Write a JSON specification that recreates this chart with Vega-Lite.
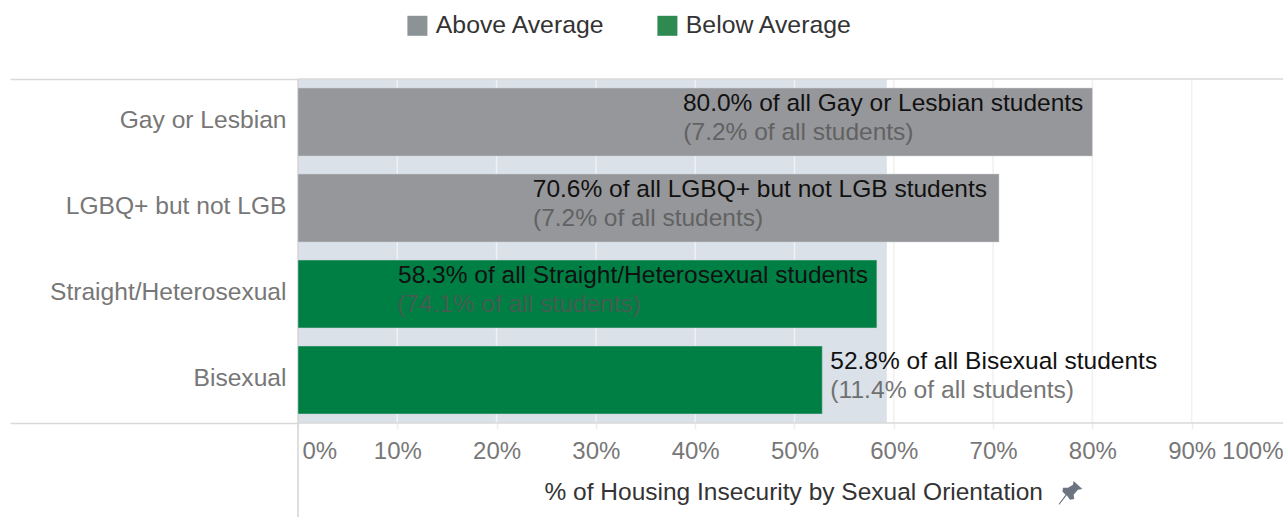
{
"$schema":"https://vega.github.io/schema/vega-lite/v6.json",
"width":985,"height":344,
"autosize":{"type":"none"},
"padding":{"left":298,"top":79,"right":0,"bottom":94},
"background":"white",
"config":{"font":"Liberation Sans","view":{"stroke":null},"text":{"font":"Liberation Sans"}},
"datasets":{
"rows":[
{"group":"Gay or Lesbian","pct":80.0,"share":7.2,"status":"Above Average","line1":"80.0% of all Gay or Lesbian students","line2":"(7.2% of all students)"},
{"group":"LGBQ+ but not LGB","pct":70.6,"share":7.2,"status":"Above Average","line1":"70.6% of all LGBQ+ but not LGB students","line2":"(7.2% of all students)"},
{"group":"Straight/Heterosexual","pct":58.3,"share":74.1,"status":"Below Average","line1":"58.3% of all Straight/Heterosexual students","line2":"(74.1% of all students)"},
{"group":"Bisexual","pct":52.8,"share":11.4,"status":"Below Average","line1":"52.8% of all Bisexual students","line2":"(11.4% of all students)"}
],
"gridIn":[{"tick":10},{"tick":20},{"tick":30},{"tick":40},{"tick":50}],
"gridOut":[{"tick":60},{"tick":70},{"tick":80},{"tick":90}],
"edges":[{"edge":0},{"edge":1}]
},
"layer":[
{"layer":[
{"data":{"values":[{"start":0,"average":59.3}]},"mark":{"type":"rect","color":"#dbe1e9"},
 "encoding":{"x":{"field":"start","type":"quantitative","axis":null,"scale":{"domain":[0,99.2],"clamp":true,"nice":false}},"x2":{"field":"average"}}},
{"data":{"name":"rows"},"mark":{"type":"rect","opacity":0},
 "encoding":{"x":{"field":"pct","type":"quantitative","axis":null},
  "color":{"field":"status","type":"nominal","scale":{"domain":["Above Average","Below Average"],"range":["#8b9396","#2f8a52"]},
   "legend":{"orient":"none","legendX":107,"legendY":-66,"direction":"horizontal","columns":2,"title":null,"symbolType":"square","symbolSize":400,"symbolStrokeWidth":0,"symbolOpacity":1,"labelOpacity":1,"labelFontSize":24.8,"labelLimit":220,"labelColor":"#333333","labelOffset":6,"columnPadding":50}}}},
{"data":{"name":"gridIn"},"mark":{"type":"rule","color":"#eef1f5","strokeWidth":1.5},
 "encoding":{"x":{"field":"tick","type":"quantitative","axis":null}}},
{"data":{"name":"gridOut"},"mark":{"type":"rule","color":"#f0f0f0","strokeWidth":1.5},
 "encoding":{"x":{"field":"tick","type":"quantitative","axis":null}}},
{"data":{"name":"edges"},"mark":{"type":"rule","color":"#d9d9d9","strokeWidth":1.5},
 "encoding":{"y":{"field":"edge","type":"quantitative","scale":{"domain":[0,1]},
   "axis":{"values":[0,1],"orient":"left","title":null,"labels":false,"domain":false,"grid":false,"ticks":true,"tickSize":288,"tickColor":"#d9d9d9","tickWidth":1.5}}}},
{"data":{"values":[{"x0":0,"from":-0.275,"to":1}]},"mark":{"type":"rule","color":"#d4d4d4","strokeWidth":1.5,"clip":false},
 "encoding":{"x":{"field":"x0","type":"quantitative","axis":null},"y":{"field":"from","type":"quantitative"},"y2":{"field":"to"}}},
{"data":{"values":[{"px":77.8,"py":-0.203}]},"mark":{"type":"point","filled":true,"clip":false,"color":"#6b7480","size":620,"opacity":1,
  "shape":"M0.25,-0.95 L0.95,-0.3 L0.6,-0.25 L0.25,0.15 L0.3,0.5 L-0.05,0.55 L-0.3,0.2 L-0.9,0.95 L-0.95,0.9 L-0.4,0.15 L-0.65,-0.1 L-0.6,-0.4 L-0.2,-0.4 L0.2,-0.65 Z"},
 "encoding":{"x":{"field":"px","type":"quantitative","axis":null},"y":{"field":"py","type":"quantitative"}}}
]},
{"data":{"name":"rows"},
 "encoding":{"y":{"field":"group","type":"nominal","sort":null,"scale":{"domain":["Gay or Lesbian","LGBQ+ but not LGB","Straight/Heterosexual","Bisexual"],"paddingInner":0.21,"paddingOuter":0.105},"axis":null}},
 "resolve":{"axis":{"x":"independent","y":"independent"}},
 "layer":[
{"mark":{"type":"bar","stroke":"#cfd3d6","strokeWidth":0.5},
 "encoding":{
  "x":{"field":"pct","type":"quantitative","scale":{"domain":[0,99.2],"clamp":true,"nice":false},
   "axis":{"orient":"bottom","values":[0,10,20,30,40,50,60,70,80,90,100],"title":"% of Housing Insecurity by Sexual Orientation","grid":false,"domain":false,
    "labelExpr":"datum.value + '%'","labelFlush":true,"labelOverlap":false,"labelFontSize":24,"labelColor":"#777777","labelPadding":10,
    "labelOffset":{"condition":{"test":"datum.value === 0","value":4},"value":0},
    "tickColor":"#eeeeee",
    "tickOpacity":{"condition":{"test":"datum.value === 100","value":0},"value":1},
    "tickSize":6,"tickWidth":1.5,
    "titleFontSize":24.5,"titleFontWeight":"normal","titleColor":"#333333","titlePadding":17,"titleAnchor":"start","titleX":246}},
  "y":{"field":"group","type":"nominal","sort":null,
   "axis":{"orient":"left","title":null,"ticks":false,"domain":false,"labelFontSize":24.6,"labelColor":"#777777","labelPadding":12,"labelLimit":285,"labelOffset":-1}},
  "color":{"field":"status","type":"nominal","scale":{"domain":["Above Average","Below Average"],"range":["#96979a","#007f45"]},"legend":null}
 }},
{"transform":[{"filter":"datum.group === 'Gay or Lesbian' || datum.group === 'Straight/Heterosexual'"}],"mark":{"type":"text","align":"right","dx":-9,"dy":-18,"fontSize":24.5,"color":"#111111"},
 "encoding":{"x":{"field":"pct","type":"quantitative","axis":null},"text":{"field":"line1"}}},
{"transform":[{"filter":"datum.group === 'LGBQ+ but not LGB'"}],"mark":{"type":"text","align":"right","dx":-12,"dy":-18,"fontSize":24.5,"color":"#111111"},
 "encoding":{"x":{"field":"pct","type":"quantitative","axis":null},"text":{"field":"line1"}}},
{"transform":[{"filter":"datum.group === 'Bisexual'"}],"mark":{"type":"text","align":"left","dx":8,"dy":-18,"fontSize":24.5,"color":"#111111"},
 "encoding":{"x":{"field":"pct","type":"quantitative","axis":null},"text":{"field":"line1"}}},
{"transform":[{"filter":"datum.group === 'Bisexual'"}],"mark":{"type":"text","align":"left","dx":8,"dy":11,"fontSize":24.7,"color":"#555555","opacity":0.8},
 "encoding":{"x":{"field":"pct","type":"quantitative","axis":null},"text":{"field":"line2"}}},
{"transform":[{"filter":"datum.group === 'Gay or Lesbian'"}],"mark":{"type":"text","align":"left","dx":-409,"dy":11,"fontSize":24.5,"color":"#555555","opacity":0.8},
 "encoding":{"x":{"field":"pct","type":"quantitative","axis":null},"text":{"field":"line2"}}},
{"transform":[{"filter":"datum.group === 'LGBQ+ but not LGB'"}],"mark":{"type":"text","align":"left","dx":-466,"dy":11,"fontSize":24.5,"color":"#555555","opacity":0.8},
 "encoding":{"x":{"field":"pct","type":"quantitative","axis":null},"text":{"field":"line2"}}},
{"transform":[{"filter":"datum.group === 'Straight/Heterosexual'"}],"mark":{"type":"text","align":"left","dx":-480,"dy":11,"fontSize":24.5,"color":"#555555","opacity":0.8},
 "encoding":{"x":{"field":"pct","type":"quantitative","axis":null},"text":{"field":"line2"}}}
]}
],
"resolve":{"scale":{"y":"independent","color":"independent"},"axis":{"x":"independent","y":"independent"}}
}
